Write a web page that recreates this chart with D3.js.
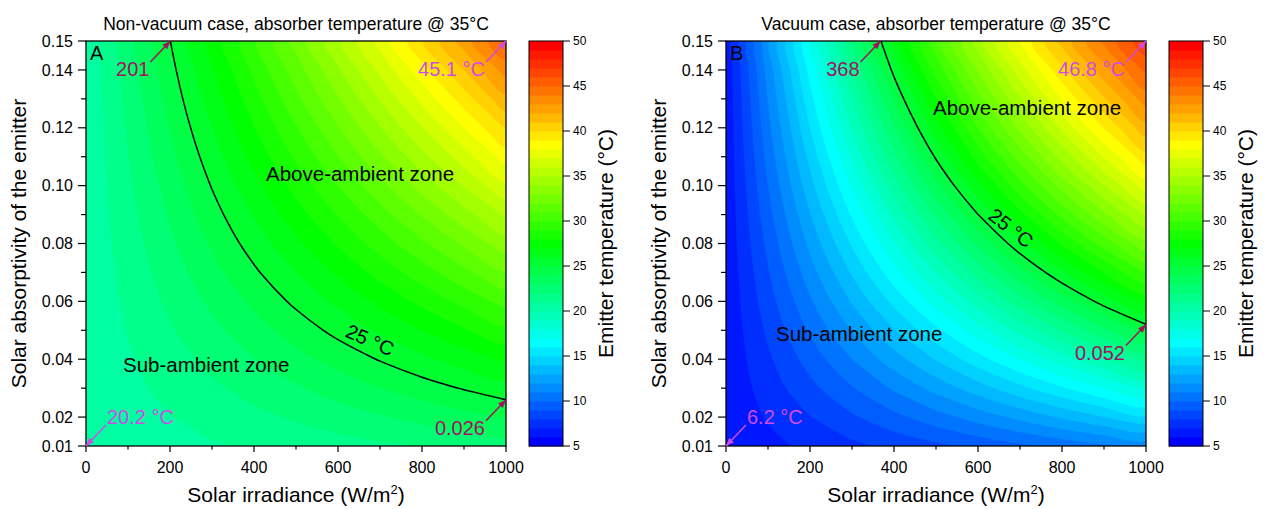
<!DOCTYPE html>
<html><head><meta charset="utf-8">
<script src="https://cdn.jsdelivr.net/npm/d3@7"></script>
<style>
body{margin:0;background:#fff;}
svg{display:block;font-family:"Liberation Sans",Arial,Helvetica,sans-serif;}
</style></head><body>
<svg id="chart" width="1267" height="509"></svg>
<script>
// ---------------- data ----------------
const irradiance = [0,100,200,300,400,500,600,700,800,900,1000];
const absorptivity = [0.01,0.02,0.03,0.04,0.05,0.06,0.07,0.08,0.09,0.10,0.11,0.12,0.13,0.14,0.15];

// emitter temperature (°C); one row per absorptivity (0.01 -> 0.15), one column per irradiance
const tempNonVacuum = [
  [20.2,20.43,20.67,20.90,21.13,21.37,21.60,21.83,22.07,22.30,22.53],
  [20.2,20.58,20.97,21.36,21.74,22.13,22.52,22.91,23.29,23.68,24.07],
  [20.2,20.74,21.28,21.82,22.36,22.90,23.44,23.99,24.53,25.08,25.62],
  [20.2,20.89,21.58,22.28,22.97,23.67,24.37,25.07,25.77,26.48,27.18],
  [20.2,21.04,21.89,22.74,23.59,24.44,25.30,26.16,27.02,27.89,28.76],
  [20.2,21.20,22.20,23.20,24.21,25.22,26.23,27.25,28.28,29.31,30.34],
  [20.2,21.35,22.50,23.66,24.83,26.00,27.17,28.35,29.54,30.74,31.93],
  [20.2,21.50,22.81,24.13,25.45,26.78,28.12,29.46,30.81,32.17,33.54],
  [20.2,21.66,23.12,24.59,26.07,27.56,29.06,30.57,32.09,33.62,35.16],
  [20.2,21.81,23.43,25.06,26.70,28.35,30.02,31.69,33.38,35.08,36.79],
  [20.2,21.96,23.74,25.52,27.33,29.14,30.97,32.81,34.67,36.54,38.43],
  [20.2,22.11,24.05,25.99,27.96,29.94,31.93,33.94,35.97,38.02,40.08],
  [20.2,22.27,24.36,26.46,28.59,30.73,32.89,35.08,37.28,39.50,41.74],
  [20.2,22.42,24.67,26.93,29.22,31.53,33.86,36.22,38.60,40.99,43.42],
  [20.2,22.58,24.98,27.40,29.85,32.33,34.83,37.36,39.92,42.50,45.10]
];
const tempVacuum = [
  [6.2,6.72,7.24,7.75,8.27,8.78,9.29,9.80,10.31,10.82,11.32],
  [6.2,7.09,7.97,8.85,9.72,10.58,11.44,12.29,13.14,13.98,14.81],
  [6.2,7.46,8.70,9.93,11.14,12.35,13.53,14.71,15.87,17.02,18.16],
  [6.2,7.82,9.42,10.99,12.55,14.07,15.58,17.06,18.51,19.95,21.36],
  [6.2,8.19,10.14,12.05,13.93,15.76,17.57,19.33,21.06,22.75,24.41],
  [6.2,8.55,10.85,13.09,15.28,17.42,19.50,21.53,23.51,25.44,27.31],
  [6.2,8.91,11.55,14.12,16.61,19.04,21.39,23.66,25.87,28.00,30.06],
  [6.2,9.27,12.25,15.13,17.92,20.62,23.22,25.72,28.13,30.45,32.67],
  [6.2,9.63,12.94,16.13,19.21,22.16,24.99,27.71,30.30,32.78,35.13],
  [6.2,9.99,13.63,17.12,20.47,23.67,26.72,29.62,32.38,34.98,37.45],
  [6.2,10.34,14.31,18.10,21.71,25.14,28.39,31.46,34.36,37.07,39.61],
  [6.2,10.70,14.99,19.06,22.92,26.57,30.01,33.23,36.24,39.04,41.63],
  [6.2,11.05,15.65,20.01,24.11,27.97,31.57,34.93,38.03,40.89,43.50],
  [6.2,11.40,16.32,20.94,25.28,29.32,33.08,36.55,39.73,42.62,45.22],
  [6.2,11.75,16.97,21.86,26.42,30.65,34.54,38.10,41.33,44.23,46.80]
];

const xTickValues = [0,200,400,600,800,1000];
const xMinorTicks = [100,300,500,700,900];
const yTickValues = [0.01,0.02,0.04,0.06,0.08,0.10,0.12,0.14,0.15];
const yMinorTicks = [0.03,0.05,0.07,0.09,0.11,0.13];
const colorbarTicks = [5,10,15,20,25,30,35,40,45,50];
const contourLevels = [5,6,7,8,9,10,11,12,13,14,15,16,17,18,19,20,21,22,23,24,25,26,27,28,29,30,31,32,33,34,35,36,37,38,39,40,41,42,43,44,45,46,47,48,49];
const ambientLevel = 25;
const rainbowStops = [5,16.25,27.5,38.75,50];
const rainbowColors = ["#0000ff","#00ffff","#00ff00","#ffff00","#ff0000"];

const panelTitles = ["Non-vacuum case, absorber temperature @ 35°C","Vacuum case, absorber temperature @ 35°C"];
const panelLetters = ["A","B"];
const calloutTextsA = ["201","45.1 °C","20.2 °C","0.026"];
const calloutPointsA = [[201,0.15],[1000,0.15],[0,0.01],[1000,0.026]];
const calloutTextsB = ["368","46.8 °C","6.2 °C","0.052"];
const calloutPointsB = [[368,0.15],[1000,0.15],[0,0.01],[1000,0.052]];

// ---------------- layout ----------------
const W = 420, H = 405, TOP = 41;
const panels = [
  {left:86, values:tempNonVacuum, title:panelTitles[0], letter:panelLetters[0],
   texts:calloutTextsA, points:calloutPointsA,
   above:[180,140], sub:[37,331], lab25:[284,299,24]},
  {left:726, values:tempVacuum, title:panelTitles[1], letter:panelLetters[1],
   texts:calloutTextsB, points:calloutPointsB,
   above:[207,74], sub:[50,300], lab25:[285,187,38]}
];
const DARK = "#a3115e", LIGHT = "#d24ae6";
const calloutStyle = [
  {color:DARK, kind:"dl"},
  {color:LIGHT, kind:"dl"},
  {color:LIGHT, kind:"ur"},
  {color:DARK, kind:"dl"}
];

const svg = d3.select("#chart");
const defs = svg.append("defs");
[DARK, LIGHT].forEach((c,i)=>{
  defs.append("marker").attr("id","arr"+i).attr("viewBox","0 0 10 8")
    .attr("refX",10).attr("refY",4).attr("markerWidth",5.5).attr("markerHeight",4.5)
    .attr("orient","auto").attr("markerUnits","strokeWidth")
    .append("path").attr("d","M0,0L10,4L0,8Z").attr("fill",c);
});

const rainbow = d3.scaleLinear().domain(rainbowStops).range(rainbowColors).interpolate(d3.interpolateRgb);
const bandColor = t => rainbow(5 + (t - 5) * 45 / 44);

panels.forEach((p, pi) => {
  const g = svg.append("g").attr("transform", `translate(${p.left},${TOP})`);
  const x = d3.scaleLinear().domain([irradiance[0], irradiance[irradiance.length-1]]).range([0, W]);
  const y = d3.scaleLinear().domain([absorptivity[0], absorptivity[absorptivity.length-1]]).range([H, 0]);
  const nx = irradiance.length, ny = absorptivity.length;
  const dG = irradiance[1]-irradiance[0], dA = absorptivity[1]-absorptivity[0];
  const flat = p.values.flat();
  // grid coordinate -> pixel (sample i sits at grid coordinate i + 0.5)
  const toPx = ([gx, gy]) => [x(irradiance[0] + (gx-0.5)*dG), y(absorptivity[0] + (gy-0.5)*dA)];
  const closedCurve = d3.line().curve(d3.curveCatmullRomClosed.alpha(0.5));
  const openCurve = d3.line().curve(d3.curveCatmullRom.alpha(0.5));
  const smoothArea = mp => mp.coordinates.map(poly =>
      poly.map(ring => closedCurve(ring.slice(0,-1).map(toPx))).join("")).join("");

  defs.append("clipPath").attr("id","clip"+pi).append("rect").attr("width",W).attr("height",H);
  const plot = g.append("g").attr("clip-path",`url(#clip${pi})`);
  const bands = d3.contours().size([nx, ny]).thresholds(contourLevels)(flat)
      .filter(d => d.coordinates.length);
  plot.selectAll("path.band").data(bands).join("path").attr("class","band")
    .attr("d", smoothArea).attr("fill", d => bandColor(d.value))
    .attr("stroke", d => bandColor(d.value)).attr("stroke-width",0.3);

  // 25 °C line: interior part of the contour ring, drawn as a smooth open curve
  const line25 = d3.contours().size([nx, ny]).contour(flat, ambientLevel);
  const eps = 1e-6;
  const inside = ([gx, gy]) => gx >= 0.5-eps && gx <= nx-0.5+eps && gy >= 0.5-eps && gy <= ny-0.5+eps;
  line25.coordinates.forEach(poly => poly.forEach(ring => {
    const pts = ring.slice(0,-1), n = pts.length;
    const ins = pts.map(inside);
    const start = ins.findIndex(v => !v);
    const runs = [];
    if (start < 0) runs.push(pts);
    else {
      let cur = [];
      for (let k = 1; k <= n; k++) {
        const i = (start + k) % n;
        if (ins[i]) cur.push(pts[i]);
        else { if (cur.length > 1) runs.push(cur); cur = []; }
      }
      if (cur.length > 1) runs.push(cur);
    }
    runs.forEach(r => plot.append("path").attr("d", openCurve(r.map(toPx)))
      .attr("fill","none").attr("stroke","#000").attr("stroke-width",1.5));
  }));

  // frame
  g.append("rect").attr("width",W).attr("height",H).attr("fill","none")
    .attr("stroke","#000").attr("stroke-width",1.3);

  // axes ticks
  xTickValues.forEach(v => {
    g.append("line").attr("x1",x(v)).attr("x2",x(v)).attr("y1",H).attr("y2",H+6).attr("stroke","#000").attr("stroke-width",1.2);
    g.append("text").attr("x",x(v)).attr("y",H+27).attr("text-anchor","middle")
      .attr("font-size",16).attr("fill","#000").text(v);
  });
  xMinorTicks.forEach(v => {
    g.append("line").attr("x1",x(v)).attr("x2",x(v)).attr("y1",H).attr("y2",H+3.5).attr("stroke","#000").attr("stroke-width",1.2);
  });
  yTickValues.forEach(v => {
    g.append("line").attr("x1",-8).attr("x2",0).attr("y1",y(v)).attr("y2",y(v)).attr("stroke","#000").attr("stroke-width",1.2);
    g.append("text").attr("x",-13).attr("y",y(v)).attr("dy","0.35em").attr("text-anchor","end")
      .attr("font-size",16).attr("fill","#000").text(d3.format(".2f")(v));
  });
  yMinorTicks.forEach(v => {
    g.append("line").attr("x1",-5).attr("x2",0).attr("y1",y(v)).attr("y2",y(v)).attr("stroke","#000").attr("stroke-width",1.2);
  });

  // axis titles
  const xt = g.append("text").attr("x",W/2).attr("y",H+56).attr("text-anchor","middle").attr("font-size",21);
  xt.append("tspan").text("Solar irradiance (W/m");
  xt.append("tspan").attr("font-size",13).attr("dy",-8).text("2");
  xt.append("tspan").attr("dy",8).text(")");
  g.append("text").attr("transform",`translate(${-60},${H/2}) rotate(-90)`).attr("text-anchor","middle")
    .attr("font-size",21).text("Solar absorptivity of the emitter");

  // title
  g.append("text").attr("x",W/2).attr("y",-11).attr("text-anchor","middle").attr("font-size",17.5).text(p.title);

  // panel letter
  g.append("text").attr("x",4).attr("y",19).attr("font-size",20).text(p.letter);

  // zone labels
  g.append("text").attr("x",p.above[0]).attr("y",p.above[1]).attr("font-size",20.5).text("Above-ambient zone");
  g.append("text").attr("x",p.sub[0]).attr("y",p.sub[1]).attr("font-size",20.5).text("Sub-ambient zone");
  g.append("text").attr("transform",`translate(${p.lab25[0]},${p.lab25[1]}) rotate(${p.lab25[2]})`)
    .attr("text-anchor","middle").attr("dy","0.35em").attr("font-size",20).text("25 °C");

  // callouts
  p.texts.forEach((t, i) => {
    const st = calloutStyle[i];
    const hx = x(p.points[i][0]), hy = y(p.points[i][1]);
    const mk = st.color === DARK ? "arr0" : "arr1";
    let tx, ty, lx, ly, anchor;
    if (st.kind === "dl") { tx = hx - 20; ty = hy + 21; lx = hx - 21; ly = hy + 35; anchor = "end"; }
    else { tx = hx + 20; ty = hy - 21; lx = hx + 21; ly = hy - 22; anchor = "start"; }
    g.append("line").attr("x1",tx).attr("y1",ty).attr("x2",hx).attr("y2",hy)
      .attr("stroke",st.color).attr("stroke-width",1.5).attr("marker-end",`url(#${mk})`);
    g.append("text").attr("x",lx).attr("y",ly).attr("text-anchor",anchor)
      .attr("font-size",20).attr("fill",st.color).text(t);
  });

  // colorbar
  const cb = svg.append("g").attr("transform",`translate(${p.left+443},${TOP})`);
  const cs = d3.scaleLinear().domain([colorbarTicks[0], colorbarTicks[colorbarTicks.length-1]]).range([H,0]);
  cb.selectAll("rect.b").data(contourLevels).join("rect").attr("class","b")
    .attr("x",0).attr("width",34).attr("y",d=>cs(d+1)).attr("height",d=>cs(d)-cs(d+1)+0.5)
    .attr("fill",d=>bandColor(d));
  cb.append("rect").attr("width",34).attr("height",H).attr("fill","none").attr("stroke","#000").attr("stroke-width",1);
  colorbarTicks.forEach(v => {
    cb.append("line").attr("x1",34).attr("x2",41).attr("y1",cs(v)).attr("y2",cs(v)).attr("stroke","#000").attr("stroke-width",1);
    cb.append("text").attr("x",44).attr("y",cs(v)).attr("dy","0.35em").attr("font-size",12).text(v);
  });
  cb.append("text").attr("transform",`translate(84,${H/2}) rotate(-90)`).attr("text-anchor","middle")
    .attr("font-size",21).text("Emitter temperature (°C)");
});
</script>
</body></html>
